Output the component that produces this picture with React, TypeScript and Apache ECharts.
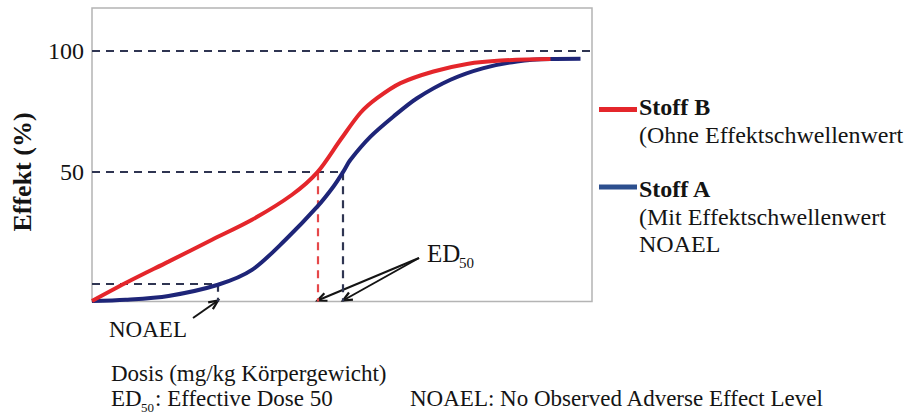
import React, { useEffect, useRef } from "react";
import * as echarts from "echarts";

// Stoff B (red, ohne Effektschwellenwert)
const doseB = [0, 7.3, 15.3, 24, 32, 40, 45.1, 49.7, 53.7, 57, 61.7, 68.3, 75, 81.7, 91.7];
const effectB = [-3, 5.0, 13.2, 22.2, 30.4, 40.7, 50, 63.3, 74.4, 80.4, 86.6, 91.4, 94.5, 95.9, 96.5];
// Stoff A (blue, mit Effektschwellenwert)
const doseA = [0, 6.7, 15.3, 25.2, 32, 38.7, 45.1, 48.3, 50.2, 51.7, 55.7, 60.3, 65, 71.7, 78.3, 85, 91.7, 97.7];
const effectA = [-3, -2.5, -0.9, 3.7, 9.8, 22.2, 35.9, 44.1, 50, 55.1, 64.6, 72.9, 80.4, 88.0, 92.8, 95.5, 96.5, 96.6];

const yTickValues = [50, 100];
const xRange = [0, 100];
const yRange = [-3.2, 117.5];
const ed50B = 45.1;
const ed50A = 50.2;
const noaelDose = 25.2;
const noaelEffect = 4.1;

const RED = "#e4262b";
const RED_DASH = "#e5484a";
const NAVY = "#1e2578";
const LEGEND_BLUE = "#2c4f8e";
const DASH = "#2f3552";
const INK = "#141414";
const SERIF = '"Liberation Serif", "Times New Roman", serif';

function txt(text: string, x: number, baseline: number, size: number, extra: any = {}) {
  return {
    type: "text",
    x,
    y: baseline - size * 0.34,
    silent: true,
    style: {
      text,
      fontSize: size,
      fontFamily: SERIF,
      fill: INK,
      textAlign: "left",
      textVerticalAlign: "middle",
      ...extra,
    },
  };
}

function arrow(tail: number[], head: number[]) {
  const a = Math.atan2(head[1] - tail[1], head[0] - tail[0]);
  const L = 10;
  const phi = 0.42;
  const p1 = [head[0] - L * Math.cos(a - phi), head[1] - L * Math.sin(a - phi)];
  const p2 = [head[0] - L * Math.cos(a + phi), head[1] - L * Math.sin(a + phi)];
  return [
    { type: "line", silent: true, shape: { x1: tail[0], y1: tail[1], x2: head[0], y2: head[1] }, style: { stroke: INK, lineWidth: 2 } },
    { type: "polyline", silent: true, shape: { points: [p1, head, p2] }, style: { stroke: INK, lineWidth: 2.2, fill: null } },
  ];
}

export default function App() {
  const ref = useRef<HTMLDivElement>(null);
  useEffect(() => {
    const chart = echarts.init(ref.current!, null, { renderer: "svg" });
    const pairs = (xs: number[], ys: number[]) => xs.map((x, i) => [x, ys[i]]);
    const bottom = yRange[0];
    chart.setOption({
      animation: false,
      backgroundColor: "#ffffff",
      grid: {
        left: 92,
        top: 8,
        width: 500,
        height: 293.5,
        show: true,
        borderColor: "#b4b4b4",
        borderWidth: 1.5,
        backgroundColor: "transparent",
      },
      xAxis: {
        type: "value",
        min: xRange[0],
        max: xRange[1],
        axisLine: { show: false },
        axisTick: { show: false },
        axisLabel: { show: false },
        splitLine: { show: false },
      },
      yAxis: {
        type: "value",
        min: yRange[0],
        max: yRange[1],
        axisLine: { show: false },
        axisTick: { show: false },
        splitLine: { show: false },
        axisLabel: {
          customValues: yTickValues,
          fontSize: 24,
          fontFamily: SERIF,
          color: INK,
          margin: 8,
        },
      },
      series: [
        {
          name: "Stoff A",
          type: "line",
          data: pairs(doseA, effectA),
          smooth: 0.3,
          showSymbol: false,
          lineStyle: { color: NAVY, width: 4 },
          z: 3,
          markLine: {
            silent: true,
            symbol: "none",
            z: 1,
            label: { show: false },
            lineStyle: { color: DASH, width: 2.2, type: [8, 6] },
            data: [
              [{ coord: [xRange[0], 100] }, { coord: [xRange[1], 100] }],
              [{ coord: [xRange[0], 50] }, { coord: [ed50A, 50] }],
              [{ coord: [xRange[0], noaelEffect] }, { coord: [noaelDose, noaelEffect] }],
              [{ coord: [noaelDose, noaelEffect] }, { coord: [noaelDose, bottom] }],
              [{ coord: [ed50A, 50] }, { coord: [ed50A, bottom] }],
              [
                { coord: [ed50B, 50], lineStyle: { color: RED_DASH, width: 2.2, type: [8, 6] } },
                { coord: [ed50B, bottom] },
              ],
            ],
          },
        },
        {
          name: "Stoff B",
          type: "line",
          data: pairs(doseB, effectB),
          smooth: 0.3,
          showSymbol: false,
          lineStyle: { color: RED, width: 4 },
          z: 4,
        },
      ],
    });

    const px = (x: number, y: number) => chart.convertToPixel({ xAxisIndex: 0, yAxisIndex: 0 }, [x, y]) as number[];
    const headNoael = px(noaelDose, bottom);
    const headB = px(ed50B, bottom);
    const headA = px(ed50A, bottom);

    const graphics: any[] = [
      // y axis title
      {
        type: "text",
        x: 22,
        y: 172,
        rotation: Math.PI / 2,
        silent: true,
        style: {
          text: "Effekt (%)",
          fontSize: 26,
          fontWeight: "bold",
          fontFamily: SERIF,
          fill: INK,
          textAlign: "center",
          textVerticalAlign: "middle",
        },
      },
      // annotations
      txt("NOAEL", 109, 337, 23),
      ...arrow([193, 318], [headNoael[0], headNoael[1] - 1]),
      txt("ED", 427, 262, 25),
      txt("50", 459, 268, 15),
      ...arrow([419, 258], [headB[0], headB[1] - 1]),
      ...arrow([419, 258], [headA[0], headA[1] - 1]),
      // legend
      { type: "line", silent: true, shape: { x1: 599, y1: 109.5, x2: 637, y2: 109.5 }, style: { stroke: RED, lineWidth: 5 } },
      txt("Stoff B", 639, 115, 24, { fontWeight: "bold" }),
      txt("(Ohne Effektschwellenwert", 639, 143, 24),
      { type: "line", silent: true, shape: { x1: 599, y1: 187, x2: 637, y2: 187 }, style: { stroke: LEGEND_BLUE, lineWidth: 5 } },
      txt("Stoff A", 639, 197, 24, { fontWeight: "bold" }),
      txt("(Mit Effektschwellenwert", 639, 225, 24),
      txt("NOAEL", 639, 252, 24),
      // footer
      txt("Dosis (mg/kg Körpergewicht)", 111, 381, 23),
      txt("ED", 111, 406, 23),
      txt("50", 141, 412, 13),
      txt(": Effective Dose 50", 155, 406, 23),
      txt("NOAEL: No Observed Adverse Effect Level", 410, 406, 23),
    ];
    chart.setOption({ graphic: graphics });

    return () => chart.dispose();
  }, []);

  return (
    <div
      ref={ref}
      style={{ position: "fixed", left: 0, top: 0, width: 912, height: 415, background: "#fff" }}
    />
  );
}
